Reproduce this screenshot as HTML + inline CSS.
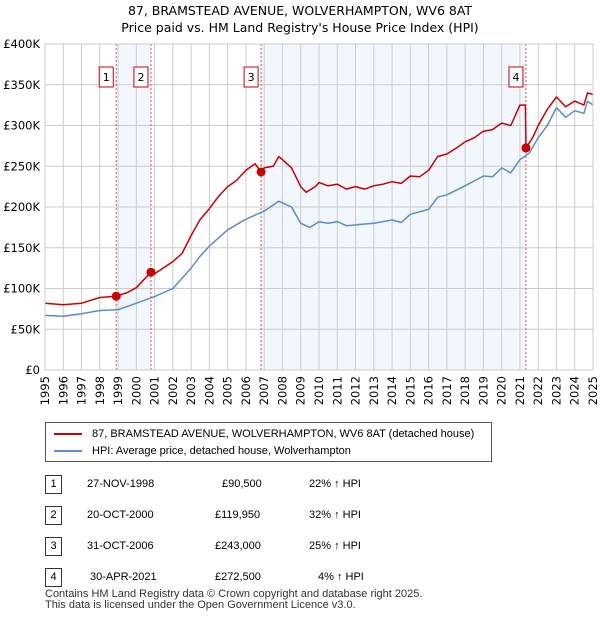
<!DOCTYPE html>
<html><head><meta charset="utf-8"><style>
body{margin:0;background:#fff;font-family:"Liberation Sans","DejaVu Sans",sans-serif;}
svg text{font-family:"DejaVu Sans","Liberation Sans",sans-serif;}
span,div{white-space:nowrap;}
</style></head><body>
<svg width="600" height="620" viewBox="0 0 600 620">
<g id="root"></g>
</svg>
<script>
const years=[1995,1996,1997,1998,1999,2000,2001,2002,2003,2004,2005,2006,2007,2008,2009,2010,2011,2012,2013,2014,2015,2016,2017,2018,2019,2020,2021,2022,2023,2024,2025];
const yTicks=[0,50,100,150,200,250,300,350,400];
const yTickLabels=["£0","£50K","£100K","£150K","£200K","£250K","£300K","£350K","£400K"];
const redT=[1995,1996,1997,1998,1998.9,1999.5,2000,2000.8,2001,2002,2002.5,2003,2003.5,2004,2004.5,2005,2005.5,2006,2006.5,2006.83,2007,2007.5,2007.8,2008,2008.5,2009,2009.3,2009.8,2010,2010.5,2011,2011.5,2012,2012.5,2013,2013.5,2014,2014.5,2015,2015.5,2016,2016.5,2017,2017.5,2018,2018.5,2019,2019.5,2020,2020.5,2021,2021.3,2021.33,2021.7,2022,2022.5,2023,2023.5,2024,2024.5,2024.7,2025];
const redV=[82,80,82,89,90.5,95,101,120,118,133,143,165,185,198,213,225,233,245,253,243,248,250,262,258,248,225,218,225,230,226,228,222,225,222,226,228,231,229,238,237,245,262,265,272,280,285,293,295,303,300,325,325,272.5,285,300,320,335,323,330,325,340,338];
const blueT=[1995,1996,1997,1998,1999,2000,2001,2002,2003,2003.5,2004,2005,2006,2007,2007.8,2008.5,2009,2009.5,2010,2010.5,2011,2011.5,2012,2013,2014,2014.5,2015,2016,2016.5,2017,2018,2019,2019.5,2020,2020.5,2021,2021.5,2022,2022.5,2023,2023.5,2024,2024.5,2024.7,2025];
const blueV=[67,66,69,73,74,82,90,100,125,140,152,172,185,195,207,200,180,175,182,180,182,177,178,180,184,181,191,197,212,215,226,238,237,248,242,258,266,285,300,322,310,318,315,330,325];
const saleT=[1998.9,2000.8,2006.83,2021.33];
const saleV=[90.5,119.95,243,272.5];
const saleLbl=["1","2","3","4"];
const X0=45,X1=593,Y0=370,Y1=44;
const xs=t=>X0+(t-1995)/30*(X1-X0);
const ys=v=>Y0-v/400*(Y0-Y1);
const NS="http://www.w3.org/2000/svg";
const root=document.getElementById('root');
function mk(tag,attrs,parent){const e=document.createElementNS(NS,tag);for(const k in attrs)e.setAttribute(k,attrs[k]);(parent||root).appendChild(e);return e;}
let t=mk('text',{x:300,y:15,'text-anchor':'middle','font-size':12.5,fill:'#000'});t.textContent="87, BRAMSTEAD AVENUE, WOLVERHAMPTON, WV6 8AT";


t=mk('text',{x:300,y:32,'text-anchor':'middle','font-size':12.5,fill:'#000'});t.textContent="Price paid vs. HM Land Registry's House Price Index (HPI)";


[[0,1],[2,3]].forEach(p=>{const r=mk('rect',{x:xs(saleT[p[0]]),y:Y1,width:xs(saleT[p[1]])-xs(saleT[p[0]]),height:Y0-Y1,fill:'#eef3fc',opacity:0.75});

});
years.forEach(y=>{const l=mk('line',{x1:xs(y),x2:xs(y),y1:Y1,y2:Y0,stroke:'#cccccc','stroke-width':1});


const tx=mk('text',{transform:`translate(${xs(y)+4},${Y0+6}) rotate(-90)`,'text-anchor':'end','font-size':11.5,fill:'#000'});tx.textContent=y;

});
yTicks.forEach((v,i)=>{const l=mk('line',{x1:X0,x2:X1,y1:ys(v),y2:ys(v),stroke:'#cccccc','stroke-width':1});


const tx=mk('text',{x:X0-5,y:ys(v)+4,'text-anchor':'end','font-size':11.5,fill:'#000'});tx.textContent=yTickLabels[i];

});
saleT.forEach((s,i)=>{const l=mk('line',{x1:xs(s),x2:xs(s),y1:Y1,y2:Y0,stroke:'#e05050','stroke-width':1,'stroke-dasharray':'2,2'});


const r=mk('rect',{x:xs(s)-17,y:67,width:14,height:20,fill:'#fff',stroke:'#cc0000','stroke-width':1});


const tx=mk('text',{x:xs(s)-10,y:81,'text-anchor':'middle','font-size':11,fill:'#000'});tx.textContent=saleLbl[i];

});
function path(T,V,c,name){const d=T.map((tt,i)=>(i?'L':'M')+xs(tt).toFixed(1)+','+ys(V[i]).toFixed(1)).join('');
const p=mk('path',{d:d,fill:'none',stroke:c,'stroke-width':1.5,'stroke-linejoin':'round'});

}
path(blueT,blueV,'#5b8bd0','hpi-line');
path(redT,redV,'#cc0000','price-paid-line');
saleT.forEach((s,i)=>{const c=mk('circle',{cx:xs(s),cy:ys(saleV[i]),r:4.5,fill:'#cc0000'});

});
mk('rect',{x:X0,y:Y1,width:X1-X0,height:Y0-Y1,fill:'none',stroke:'#cccccc'});
</script>
<div style="position:absolute;left:45px;top:422px;width:447px;height:40px;border:1px solid #555;box-sizing:border-box;font-size:11px;">
<div style="position:absolute;left:8px;top:5px;"><span style="display:inline-block;width:28px;height:2px;background:#cc0000;vertical-align:middle;margin-right:10px"></span>87, BRAMSTEAD AVENUE, WOLVERHAMPTON, WV6 8AT (detached house)</div>
<div style="position:absolute;left:8px;top:22px;"><span style="display:inline-block;width:28px;height:2px;background:#5b8bd0;vertical-align:middle;margin-right:10px"></span>HPI: Average price, detached house, Wolverhampton</div>
</div>
<div style="position:absolute;left:0;top:0;width:600px;font-size:11px;">
<div>
<span style="position:absolute;left:45px;top:475px;width:15px;height:17px;border:1px solid #333;text-align:center;line-height:17px">1</span>
<span style="position:absolute;left:87px;top:478px">27-NOV-1998</span><span style="position:absolute;left:222px;top:478px">£90,500</span><span style="position:absolute;left:309px;top:478px">22% ↑ HPI</span></div>
<div>
<span style="position:absolute;left:45px;top:506px;width:15px;height:17px;border:1px solid #333;text-align:center;line-height:17px">2</span>
<span style="position:absolute;left:87px;top:509px">20-OCT-2000</span><span style="position:absolute;left:215px;top:509px">£119,950</span><span style="position:absolute;left:309px;top:509px">32% ↑ HPI</span></div>
<div>
<span style="position:absolute;left:45px;top:537px;width:15px;height:17px;border:1px solid #333;text-align:center;line-height:17px">3</span>
<span style="position:absolute;left:87px;top:540px">31-OCT-2006</span><span style="position:absolute;left:215px;top:540px">£243,000</span><span style="position:absolute;left:309px;top:540px">25% ↑ HPI</span></div>
<div>
<span style="position:absolute;left:45px;top:568px;width:15px;height:17px;border:1px solid #333;text-align:center;line-height:17px">4</span>
<span style="position:absolute;left:90px;top:571px">30-APR-2021</span><span style="position:absolute;left:215px;top:571px">£272,500</span><span style="position:absolute;left:318px;top:571px">4% ↑ HPI</span></div>
</div>
<div style="position:absolute;left:45px;top:589px;font-size:11px;color:#333;line-height:11px">Contains HM Land Registry data © Crown copyright and database right 2025.<br>This data is licensed under the Open Government Licence v3.0.</div>
</body></html>
